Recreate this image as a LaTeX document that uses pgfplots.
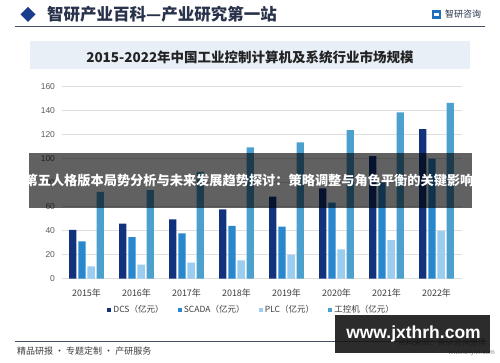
\documentclass[border=0pt]{standalone}
\usepackage{fontspec}
\usepackage{pgfplots}
\pgfplotsset{compat=1.18}
\setmainfont{Noto Sans CJK SC}
\newfontfamily\arial{Liberation Sans}
\definecolor{dcs}{RGB}{18,50,125}
\definecolor{scada}{RGB}{40,135,205}
\definecolor{plc}{RGB}{155,205,240}
\definecolor{gkj}{RGB}{75,160,205}
\definecolor{hdr}{RGB}{40,50,75}
\definecolor{band}{RGB}{233,239,247}
\definecolor{txt}{RGB}{60,60,60}
\definecolor{diam}{RGB}{25,60,140}
\definecolor{logo}{RGB}{30,110,190}
\definecolor{rule}{RGB}{70,80,100}
\definecolor{ttl}{RGB}{35,35,35}
\definecolor{ytk}{RGB}{90,90,90}
\definecolor{grd}{RGB}{222,222,222}
\definecolor{box}{RGB}{22,22,22}
\pgfplotsset{sqleg/.style={legend image code/.code={\fill[##1] (0pt,-2.2pt) rectangle (4.4pt,2.2pt);}}}
\pgfplotstableread{
x dcs scada plc gkj
0 40.5 31.0 10.2 72.3
1 45.7 34.6 11.5 73.8
2 49.3 37.7 13.2 89.0
3 57.7 43.8 15.2 109.3
4 68.2 43.2 19.8 113.5
5 75.1 63.3 24.3 123.7
6 102.0 80.0 32.0 138.5
7 124.6 100.0 39.8 146.5
}\data
\begin{document}
\begin{tikzpicture}
\begin{scope}[x=1pt,y=1pt]
\path[use as bounding box] (0,0) rectangle (500,362);
\fill[white] (0,0) rectangle (500,362);
% header
\fill[diam] (28,355) -- (35.5,347.5) -- (28,340) -- (20.5,347.5) -- cycle;
\node[anchor=west, font=\bfseries\fontsize{16.5}{18}\selectfont, text=hdr, inner sep=0] at (47,347.5) {智研产业百科—产业研究第一站};
\fill[logo] (432,343) rectangle (441,352);
\fill[white] (434,346) rectangle (439,349);
\node[anchor=west, font=\fontsize{9}{10}\selectfont, text=hdr, inner sep=0] at (445,347.5) {智研咨询};
\draw[rule, line width=0.8pt] (15,336) -- (485,336);
% title band
\fill[band] (30,293) rectangle (470,321);
\node[font=\bfseries\fontsize{13.5}{15}\selectfont, text=ttl] at (250,305) {2015-2022年中国工业控制计算机及系统行业市场规模};
\end{scope}
\begin{axis}[
  at={(86.5pt,83.5pt)}, anchor=origin, scale only axis,
  width=400pt, height=191.8pt,
  ymin=0, ymax=160, xmin=-0.5, xmax=7.5,
  ybar=1.9pt, bar width=7.3pt,
  axis line style={draw=none},
  tick style={draw=none},
  ytick={0,20,...,160},
  xtick={0,...,7},
  xticklabels={2015年,2016年,2017年,2018年,2019年,2020年,2021年,2022年},
  ymajorgrids, grid style={draw=grd, line width=0.6pt},
  /pgf/number format/assume math mode=true,
  yticklabel style={font=\arial\fontsize{8.5}{10}\selectfont, text=ytk, xshift=-3pt},
  xticklabel style={font=\fontsize{9}{10}\selectfont, text=txt, yshift=-3pt},
  legend style={at={(0.475,-0.164)}, anchor=center, draw=none, fill=none,
    legend columns=4, font=\fontsize{8.5}{10}\selectfont, text=txt,
    /tikz/every even column/.append style={column sep=12pt}},
]
\addplot[fill=dcs, draw=none, sqleg] table[x=x,y=dcs] {\data};
\addlegendentry{DCS（亿元）}
\addplot[fill=scada, draw=none, sqleg] table[x=x,y=scada] {\data};
\addlegendentry{SCADA（亿元）}
\addplot[fill=plc, draw=none, sqleg] table[x=x,y=plc] {\data};
\addlegendentry{PLC（亿元）}
\addplot[fill=gkj, draw=none, sqleg] table[x=x,y=gkj] {\data};
\addlegendentry{工控机（亿元）}
\end{axis}
\begin{scope}[x=1pt,y=1pt]
% banner overlay
\fill[black, opacity=0.62] (29,154) rectangle (472,209);
\node[font=\bfseries\fontsize{13.2}{15}\selectfont, text=white, inner sep=0] at (249,181) {第五人格版本局势分析与未来发展趋势探讨：策略调整与角色平衡的关键影响};
% footer
\draw[rule, line width=0.8pt] (15,21) -- (487,21);
\node[anchor=west, font=\fontsize{9}{10}\selectfont, text=txt, inner sep=0] at (17,11) {精品研报 · 专题定制 · 产研服务};
\node[anchor=east, font=\fontsize{8}{9}\selectfont, text=txt, inner sep=0] at (486,20) {资料来源：智研咨询整理};
\node[anchor=east, font=\arial\fontsize{6.5}{8}\selectfont, text=gray, inner sep=0] at (495,9) {www.chyxx.com};
\fill[box, opacity=0.9] (335,9) rectangle (490,47);
\node[font=\arial\bfseries\fontsize{17.5}{19}\selectfont, text=white, inner sep=0] at (413.5,28) {www.jxthrh.com};
\end{scope}
\end{tikzpicture}
\end{document}
